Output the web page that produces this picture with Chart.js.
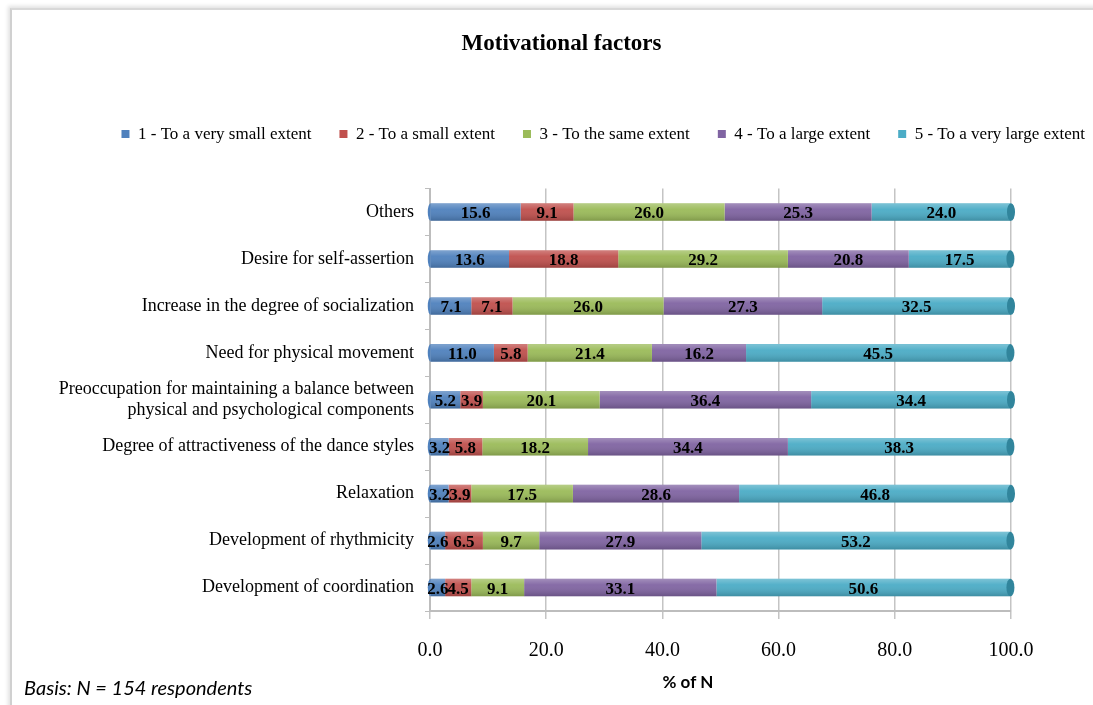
<!DOCTYPE html>
<html>
<head>
<meta charset="utf-8">
<script src="https://cdn.jsdelivr.net/npm/chart.js@4"></script>
<style>
  body { margin: 0; background: #fff; }
  #wrap { position: relative; width: 1093px; height: 705px; overflow: hidden; }
  #frame { position: absolute; left: 10px; top: 8px; width: 1200px; height: 800px;
           border-left: 2px solid #d0d0d0; border-top: 2px solid #d8d8d8;
           box-shadow: -2px -2px 4px rgba(0,0,0,0.12); }
  canvas { position: absolute; left: 0; top: 0; }
</style>
</head>
<body>
<div id="wrap">
  <div id="frame"></div>
  <canvas id="myChart" width="1093" height="705"></canvas>
</div>
<script>
const categories = [
    'Others',
    'Desire for self-assertion',
    'Increase in the degree of socialization',
    'Need for physical movement',
    ['Preoccupation for maintaining a balance between', 'physical and psychological components'],
    'Degree of attractiveness of the dance styles',
    'Relaxation',
    'Development of rhythmicity',
    'Development of coordination'
];

const seriesNames = [
    '1 - To a very small extent',
    '2 - To a small extent',
    '3 - To the same extent',
    '4 - To a large extent',
    '5 - To a very large extent'
];

const verySmall = [15.6, 13.6, 7.1, 11.0, 5.2, 3.2, 3.2, 2.6, 2.6];
const small     = [9.1, 18.8, 7.1, 5.8, 3.9, 5.8, 3.9, 6.5, 4.5];
const same      = [26.0, 29.2, 26.0, 21.4, 20.1, 18.2, 17.5, 9.7, 9.1];
const large     = [25.3, 20.8, 27.3, 16.2, 36.4, 34.4, 28.6, 27.9, 33.1];
const veryLarge = [24.0, 17.5, 32.5, 45.5, 34.4, 38.3, 46.8, 53.2, 50.6];

const xTicks = [0, 20, 40, 60, 80, 100];

const colors = ['#4F81BD', '#C0504D', '#9BBB59', '#8064A2', '#4BACC6'];
const capColor = '#31859c';

const allSeries = [verySmall, small, same, large, veryLarge];

// shading, end caps and the value inside each segment
const segmentLabels = {
    id: 'segmentLabels',
    afterDatasetsDraw(chart) {
        const c = chart.ctx;
        const last = chart.getDatasetMeta(chart.data.datasets.length - 1);
        const first = chart.getDatasetMeta(0);
        last.data.forEach((bar, i) => {
            const h = bar.height;
            const top = bar.y - h / 2;
            const left = first.data[i].base;
            const g = c.createLinearGradient(0, top, 0, top + h);
            g.addColorStop(0, 'rgba(255,255,255,0.28)');
            g.addColorStop(0.35, 'rgba(255,255,255,0.05)');
            g.addColorStop(1, 'rgba(0,0,0,0.18)');
            c.save();
            c.fillStyle = g;
            c.fillRect(left, top, bar.x - left, h);
            c.fillStyle = capColor;
            c.beginPath();
            c.ellipse(bar.x, bar.y, 4, h / 2, 0, 0, Math.PI * 2);
            c.fill();
            c.fillStyle = colors[0];
            c.beginPath();
            c.ellipse(left, bar.y, 3, h / 2, 0, Math.PI / 2, Math.PI * 1.5);
            c.fill();
            c.restore();
        });

        c.save();
        c.font = 'bold 17px "Liberation Serif", serif';
        c.fillStyle = '#000';
        c.textAlign = 'center';
        c.textBaseline = 'middle';
        chart.data.datasets.forEach((ds, di) => {
            chart.getDatasetMeta(di).data.forEach((bar, i) => {
                const x = (bar.x + bar.base) / 2;
                c.fillText(ds.data[i].toFixed(1), x, bar.y + 2);
            });
        });
        c.restore();

        // axis title and footnote
        c.save();
        c.fillStyle = '#000';
        c.textBaseline = 'middle';
        c.font = 'bold 17px Lato, sans-serif';
        c.textAlign = 'center';
        c.fillText('% of N', 688, 683);
        c.textAlign = 'left';
        c.font = 'italic 20px Lato, sans-serif';
        c.fillText('Basis: N = 154 respondents', 24, 689);
        c.restore();
    }
};

const legendGap = {
    id: 'legendGap',
    beforeInit(chart) {
        const orig = chart.legend.fit;
        chart.legend.fit = function() {
            orig.bind(chart.legend)();
            this.height += 36;
        };
    }
};

const ctx = document.getElementById('myChart').getContext('2d');

const myChart = new Chart(ctx, {
    type: 'bar',
    data: {
        labels: categories,
        datasets: allSeries.map((s, i) => ({
            label: seriesNames[i],
            data: s,
            backgroundColor: colors[i],
            borderWidth: 0,
            barPercentage: 0.75,
            categoryPercentage: 0.5
        }))
    },
    options: {
        indexAxis: 'y',
        responsive: false,
        animation: false,
        layout: { padding: { left: 10, right: -20, top: 0, bottom: 22 } },
        plugins: {
            title: {
                display: true,
                text: 'Motivational factors',
                color: '#000',
                font: { family: '"Liberation Serif", serif', size: 23, weight: 'bold' },
                padding: { top: 30, bottom: 40 }
            },
            legend: {
                position: 'top',
                align: 'end',
                labels: {
                    color: '#000',
                    font: { family: '"Liberation Serif", serif', size: 17 },
                    boxWidth: 8,
                    boxHeight: 8,
                    padding: 28
                }
            },
            tooltip: { enabled: false }
        },
        scales: {
            x: {
                stacked: true,
                min: 0,
                max: 100,
                afterBuildTicks(scale) {
                    scale.ticks = xTicks.map(v => ({ value: v }));
                },
                ticks: {
                    color: '#000',
                    font: { family: '"Liberation Serif", serif', size: 20 },
                    padding: 20,
                    callback: v => v.toFixed(1)
                },
                grid: { color: '#c4c4c4', lineWidth: 1.5, tickLength: 8 },
                border: { color: '#bdbdbd', width: 2 }
            },
            y: {
                stacked: true,
                afterFit(scale) { scale.width = 420; },
                ticks: {
                    color: '#000',
                    font: { family: '"Liberation Serif", serif', size: 18 },
                    padding: 11
                },
                grid: { drawOnChartArea: false, color: '#bdbdbd', tickLength: 5, offset: true },
                border: { color: '#bdbdbd', width: 2 }
            },
            y2: {
                position: 'right',
                display: true,
                afterFit(scale) { scale.width = 102; },
                ticks: { display: false },
                grid: { display: false },
                border: { display: false }
            }
        }
    },
    plugins: [segmentLabels, legendGap]
});
</script>
</body>
</html>
